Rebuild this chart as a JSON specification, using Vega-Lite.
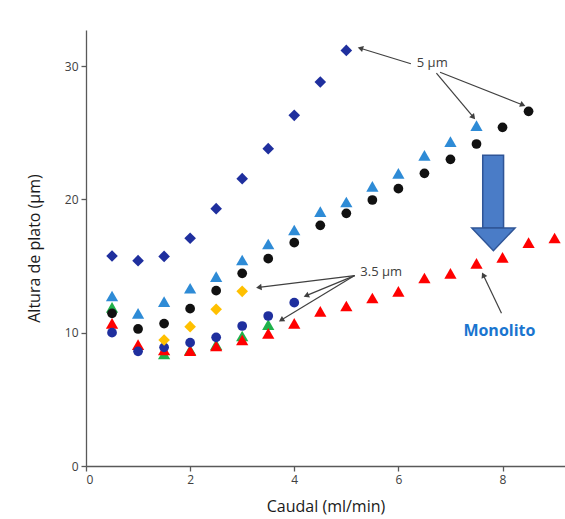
{
  "$schema": "https://vega.github.io/schema/vega-lite/v6.json",
  "width": 479,
  "height": 436,
  "autosize": {"type": "none"},
  "padding": {"left": 86, "top": 30, "right": 0, "bottom": 53},
  "background": "white",
  "config": {
    "view": {"stroke": null},
    "axis": {
      "grid": false,
      "domainColor": "#595959",
      "tickColor": "#595959",
      "domainWidth": 1.3,
      "tickWidth": 1.3,
      "tickSize": 5,
      "labelFont": "Open Sans",
      "labelFontSize": 12,
      "labelColor": "#404040",
      "labelPadding": 3,
      "titleFont": "Open Sans",
      "titleFontSize": 16,
      "titleFontWeight": "normal",
      "titleColor": "#1a1a1a"
    }
  },
  "datasets": {
    "pts": [
      {"serie": "5 µm B", "x": 0.5, "y": 12.75},
      {"serie": "5 µm B", "x": 1.0, "y": 11.45},
      {"serie": "5 µm B", "x": 1.5, "y": 12.33},
      {"serie": "5 µm B", "x": 2.0, "y": 13.33},
      {"serie": "5 µm B", "x": 2.5, "y": 14.2},
      {"serie": "5 µm B", "x": 3.0, "y": 15.45},
      {"serie": "5 µm B", "x": 3.5, "y": 16.65},
      {"serie": "5 µm B", "x": 4.0, "y": 17.7},
      {"serie": "5 µm B", "x": 4.5, "y": 19.08},
      {"serie": "5 µm B", "x": 5.0, "y": 19.8},
      {"serie": "5 µm B", "x": 5.5, "y": 20.97},
      {"serie": "5 µm B", "x": 6.0, "y": 21.95},
      {"serie": "5 µm B", "x": 6.5, "y": 23.3},
      {"serie": "5 µm B", "x": 7.0, "y": 24.33},
      {"serie": "5 µm B", "x": 7.5, "y": 25.53},
      {"serie": "3.5 µm C", "x": 0.5, "y": 11.9},
      {"serie": "3.5 µm C", "x": 1.5, "y": 8.4},
      {"serie": "3.5 µm C", "x": 2.0, "y": 8.7},
      {"serie": "3.5 µm C", "x": 2.5, "y": 9.1},
      {"serie": "3.5 µm C", "x": 3.0, "y": 9.75},
      {"serie": "3.5 µm C", "x": 3.5, "y": 10.6},
      {"serie": "Monolito", "x": 0.5, "y": 10.7},
      {"serie": "Monolito", "x": 1.0, "y": 9.1},
      {"serie": "Monolito", "x": 1.5, "y": 8.7},
      {"serie": "Monolito", "x": 2.0, "y": 8.65},
      {"serie": "Monolito", "x": 2.5, "y": 9.0},
      {"serie": "Monolito", "x": 3.0, "y": 9.45},
      {"serie": "Monolito", "x": 3.5, "y": 9.95},
      {"serie": "Monolito", "x": 4.0, "y": 10.7},
      {"serie": "Monolito", "x": 4.5, "y": 11.6},
      {"serie": "Monolito", "x": 5.0, "y": 12.0},
      {"serie": "Monolito", "x": 5.5, "y": 12.6},
      {"serie": "Monolito", "x": 6.0, "y": 13.1},
      {"serie": "Monolito", "x": 6.5, "y": 14.1},
      {"serie": "Monolito", "x": 7.0, "y": 14.45},
      {"serie": "Monolito", "x": 7.5, "y": 15.2},
      {"serie": "Monolito", "x": 8.0, "y": 15.65},
      {"serie": "Monolito", "x": 8.5, "y": 16.75},
      {"serie": "Monolito", "x": 9.0, "y": 17.1},
      {"serie": "5 µm C", "x": 0.5, "y": 11.45},
      {"serie": "5 µm C", "x": 1.0, "y": 10.28},
      {"serie": "5 µm C", "x": 1.5, "y": 10.68},
      {"serie": "5 µm C", "x": 2.0, "y": 11.8},
      {"serie": "5 µm C", "x": 2.5, "y": 13.15},
      {"serie": "5 µm C", "x": 3.0, "y": 14.45},
      {"serie": "5 µm C", "x": 3.5, "y": 15.55},
      {"serie": "5 µm C", "x": 4.0, "y": 16.75},
      {"serie": "5 µm C", "x": 4.5, "y": 18.05},
      {"serie": "5 µm C", "x": 5.0, "y": 18.95},
      {"serie": "5 µm C", "x": 5.5, "y": 19.95},
      {"serie": "5 µm C", "x": 6.0, "y": 20.8},
      {"serie": "5 µm C", "x": 6.5, "y": 21.95},
      {"serie": "5 µm C", "x": 7.0, "y": 23.0},
      {"serie": "5 µm C", "x": 7.5, "y": 24.15},
      {"serie": "5 µm C", "x": 8.0, "y": 25.4},
      {"serie": "5 µm C", "x": 8.5, "y": 26.6},
      {"serie": "3.5 µm B", "x": 0.5, "y": 10.0},
      {"serie": "3.5 µm B", "x": 1.0, "y": 8.6},
      {"serie": "3.5 µm B", "x": 1.5, "y": 8.9},
      {"serie": "3.5 µm B", "x": 2.0, "y": 9.25},
      {"serie": "3.5 µm B", "x": 2.5, "y": 9.65},
      {"serie": "3.5 µm B", "x": 3.0, "y": 10.5},
      {"serie": "3.5 µm B", "x": 3.5, "y": 11.25},
      {"serie": "3.5 µm B", "x": 4.0, "y": 12.25},
      {"serie": "3.5 µm A", "x": 1.5, "y": 9.45},
      {"serie": "3.5 µm A", "x": 2.0, "y": 10.45},
      {"serie": "3.5 µm A", "x": 2.5, "y": 11.75},
      {"serie": "3.5 µm A", "x": 3.0, "y": 13.1},
      {"serie": "5 µm A", "x": 0.5, "y": 15.75},
      {"serie": "5 µm A", "x": 1.0, "y": 15.4},
      {"serie": "5 µm A", "x": 1.5, "y": 15.72},
      {"serie": "5 µm A", "x": 2.0, "y": 17.08},
      {"serie": "5 µm A", "x": 2.5, "y": 19.3},
      {"serie": "5 µm A", "x": 3.0, "y": 21.55},
      {"serie": "5 µm A", "x": 3.5, "y": 23.8},
      {"serie": "5 µm A", "x": 4.0, "y": 26.3},
      {"serie": "5 µm A", "x": 4.5, "y": 28.8},
      {"serie": "5 µm A", "x": 5.0, "y": 31.17}
    ],
    "ann": [
      {"x1": 6.24, "y1": 30.17, "x2": 5.27, "y2": 31.33},
      {"x1": 6.73, "y1": 29.46, "x2": 7.44, "y2": 26.16},
      {"x1": 6.8, "y1": 29.53, "x2": 8.39, "y2": 27.08},
      {"x1": 5.16, "y1": 14.28, "x2": 3.32, "y2": 13.4},
      {"x1": 5.16, "y1": 14.28, "x2": 4.23, "y2": 12.78},
      {"x1": 5.16, "y1": 14.28, "x2": 3.75, "y2": 10.95},
      {"x1": 7.98, "y1": 11.45, "x2": 7.63, "y2": 14.33}
    ],
    "labels": [
      {"x": 6.65, "y": 30.23, "t": "5 µm"},
      {"x": 5.67, "y": 14.55, "t": "3.5 µm"}
    ],
    "mono": [
      {"x": 7.94, "y": 10.1, "t": "Monolito"}
    ],
    "shaft": [
      {"xa": 7.62, "xb": 8.02, "ya": 23.3, "yb": 17.85}
    ],
    "head": [
      {"xa": 7.41, "ya": 17.85, "yb": 17.85},
      {"xa": 7.825, "ya": 16.15, "yb": 17.85},
      {"xa": 8.24, "ya": 17.85, "yb": 17.85}
    ]
  },
  "layer": [
    {
      "data": {"name": "pts"},
      "transform": [{"filter": "indexof(['5 µm B','3.5 µm C','Monolito'], datum.serie) >= 0"}],
      "mark": {"type": "point", "filled": true, "opacity": 1, "shape": "triangle-up", "size": 150},
      "encoding": {
        "x": {
          "field": "x", "type": "quantitative",
          "scale": {"domain": [0, 9.2], "nice": false, "zero": false},
          "axis": {"values": [0, 2, 4, 6, 8], "title": "Caudal (ml/min)", "titlePadding": 13}
        },
        "y": {
          "field": "y", "type": "quantitative",
          "scale": {"domain": [0, 32.7], "nice": false, "zero": false},
          "axis": {"values": [0, 10, 20, 30], "title": "Altura de plato (µm)", "titlePadding": 22}
        },
        "color": {
          "field": "serie", "type": "nominal", "legend": null,
          "scale": {
            "domain": ["5 µm A", "5 µm B", "5 µm C", "3.5 µm A", "3.5 µm B", "3.5 µm C", "Monolito"],
            "range": ["#1f2f9e", "#2e8bd6", "#111111", "#ffc000", "#1f2f9e", "#1fb14a", "#ff0000"]
          }
        }
      }
    },
    {
      "data": {"name": "pts"},
      "transform": [{"filter": "indexof(['5 µm C','3.5 µm B'], datum.serie) >= 0"}],
      "mark": {"type": "point", "filled": true, "opacity": 1, "shape": "circle", "size": 95},
      "encoding": {
        "x": {"field": "x", "type": "quantitative", "scale": {"domain": [0, 9.2], "nice": false, "zero": false}, "axis": {"title": "Caudal (ml/min)"}},
        "y": {"field": "y", "type": "quantitative", "scale": {"domain": [0, 32.7], "nice": false, "zero": false}, "axis": {"title": "Altura de plato (µm)"}},
        "color": {
          "field": "serie", "type": "nominal", "legend": null,
          "scale": {
            "domain": ["5 µm A", "5 µm B", "5 µm C", "3.5 µm A", "3.5 µm B", "3.5 µm C", "Monolito"],
            "range": ["#1f2f9e", "#2e8bd6", "#111111", "#ffc000", "#1f2f9e", "#1fb14a", "#ff0000"]
          }
        }
      }
    },
    {
      "data": {"name": "pts"},
      "transform": [{"filter": "indexof(['3.5 µm A','5 µm A'], datum.serie) >= 0"}],
      "mark": {"type": "point", "filled": true, "opacity": 1, "shape": "diamond", "size": 135},
      "encoding": {
        "x": {"field": "x", "type": "quantitative", "scale": {"domain": [0, 9.2], "nice": false, "zero": false}, "axis": {"title": "Caudal (ml/min)"}},
        "y": {"field": "y", "type": "quantitative", "scale": {"domain": [0, 32.7], "nice": false, "zero": false}, "axis": {"title": "Altura de plato (µm)"}},
        "color": {
          "field": "serie", "type": "nominal", "legend": null,
          "scale": {
            "domain": ["5 µm A", "5 µm B", "5 µm C", "3.5 µm A", "3.5 µm B", "3.5 µm C", "Monolito"],
            "range": ["#1f2f9e", "#2e8bd6", "#111111", "#ffc000", "#1f2f9e", "#1fb14a", "#ff0000"]
          }
        }
      }
    },
    {
      "data": {"name": "ann"},
      "mark": {"type": "rule", "color": "#404040", "strokeWidth": 1.2},
      "encoding": {
        "x": {"field": "x1", "type": "quantitative", "scale": {"domain": [0, 9.2], "nice": false, "zero": false}, "axis": {"title": "Caudal (ml/min)"}},
        "y": {"field": "y1", "type": "quantitative", "scale": {"domain": [0, 32.7], "nice": false, "zero": false}, "axis": {"title": "Altura de plato (µm)"}},
        "x2": {"field": "x2"},
        "y2": {"field": "y2"}
      }
    },
    {
      "data": {"name": "ann"},
      "transform": [
        {"calculate": "atan2((datum.x2 - datum.x1) * 52.07, (datum.y2 - datum.y1) * 13.33) * 180 / PI", "as": "ang"}
      ],
      "mark": {"type": "point", "shape": "triangle-up", "filled": true, "color": "#404040", "size": 40, "opacity": 1},
      "encoding": {
        "x": {"field": "x2", "type": "quantitative", "scale": {"domain": [0, 9.2], "nice": false, "zero": false}, "axis": {"title": "Caudal (ml/min)"}},
        "y": {"field": "y2", "type": "quantitative", "scale": {"domain": [0, 32.7], "nice": false, "zero": false}, "axis": {"title": "Altura de plato (µm)"}},
        "angle": {"field": "ang", "type": "quantitative", "scale": null}
      }
    },
    {
      "data": {"name": "labels"},
      "mark": {"type": "text", "font": "Open Sans", "fontSize": 13, "color": "#404040"},
      "encoding": {
        "x": {"field": "x", "type": "quantitative", "scale": {"domain": [0, 9.2], "nice": false, "zero": false}, "axis": {"title": "Caudal (ml/min)"}},
        "y": {"field": "y", "type": "quantitative", "scale": {"domain": [0, 32.7], "nice": false, "zero": false}, "axis": {"title": "Altura de plato (µm)"}},
        "text": {"field": "t"}
      }
    },
    {
      "data": {"name": "mono"},
      "mark": {"type": "text", "font": "Open Sans", "fontSize": 16, "fontWeight": "bold", "color": "#1a75cf"},
      "encoding": {
        "x": {"field": "x", "type": "quantitative", "scale": {"domain": [0, 9.2], "nice": false, "zero": false}, "axis": {"title": "Caudal (ml/min)"}},
        "y": {"field": "y", "type": "quantitative", "scale": {"domain": [0, 32.7], "nice": false, "zero": false}, "axis": {"title": "Altura de plato (µm)"}},
        "text": {"field": "t"}
      }
    },
    {
      "data": {"name": "shaft"},
      "mark": {"type": "rect", "fill": "#4a7cc7", "stroke": "#2f5597", "strokeWidth": 1.5, "opacity": 1},
      "encoding": {
        "x": {"field": "xa", "type": "quantitative", "scale": {"domain": [0, 9.2], "nice": false, "zero": false}, "axis": {"title": "Caudal (ml/min)"}},
        "x2": {"field": "xb"},
        "y": {"field": "ya", "type": "quantitative", "scale": {"domain": [0, 32.7], "nice": false, "zero": false}, "axis": {"title": "Altura de plato (µm)"}},
        "y2": {"field": "yb"}
      }
    },
    {
      "data": {"name": "head"},
      "mark": {"type": "area", "fill": "#4a7cc7", "stroke": "#2f5597", "strokeWidth": 1.5, "opacity": 1, "fillOpacity": 1, "interpolate": "linear"},
      "encoding": {
        "x": {"field": "xa", "type": "quantitative", "scale": {"domain": [0, 9.2], "nice": false, "zero": false}, "axis": {"title": "Caudal (ml/min)"}},
        "y": {"field": "ya", "type": "quantitative", "stack": null, "scale": {"domain": [0, 32.7], "nice": false, "zero": false}, "axis": {"title": "Altura de plato (µm)"}},
        "y2": {"field": "yb"}
      }
    }
  ]
}
